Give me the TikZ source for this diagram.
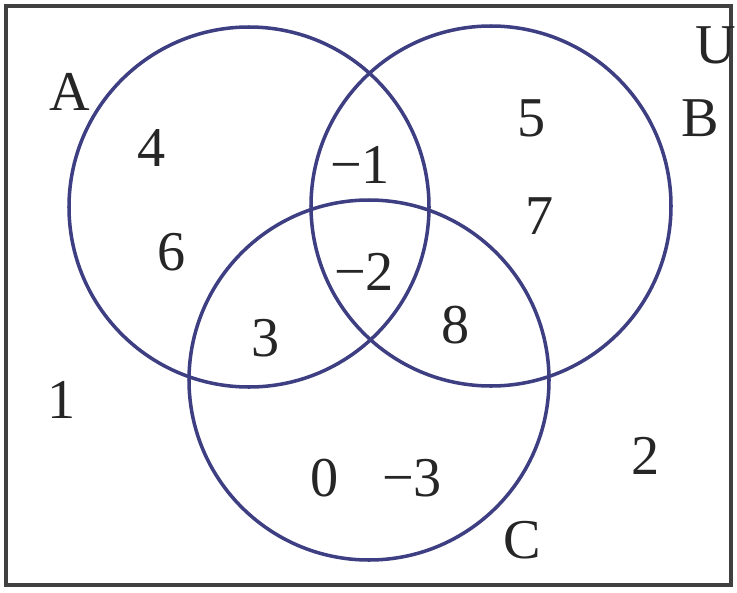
\documentclass[tikz,border=0pt]{standalone}
\usepackage{fontspec}
\setmainfont{Liberation Serif}
\begin{document}
\begin{tikzpicture}[x=0.02cm,y=-0.02cm,
  circ/.style={draw=circblue,line width=2pt},
  lbl/.style={font=\fontsize{32}{36}\selectfont,text=black!85,inner sep=0pt}]
\definecolor{circblue}{RGB}{62,62,130}
\useasboundingbox (0,0) rectangle (737,592);
\fill[white] (0,0) rectangle (737,592);
\draw[black!75,line width=2.2pt] (6,6) rectangle (731,585);
\node[circ,circle,minimum size=360*0.02cm] (A) at (249,207) {};
\node[circ,circle,minimum size=360*0.02cm] (B) at (491,206) {};
\node[circ,circle,minimum size=360*0.02cm] (C) at (369,380) {};
\node[lbl] (la) at (70,92) {A};
\node[lbl] (lu) at (716,45) {U};
\node[lbl] (lb) at (700,118) {B};
\node[lbl] (lc) at (522,540) {C};
\node[lbl] (n4) at (152,148) {4};
\node[lbl] (n6) at (172,252) {6};
\node[lbl] (nm1) at (360,165) {−1};
\node[lbl] (nm2) at (364,272) {−2};
\node[lbl] (n5) at (532,118) {5};
\node[lbl] (n7) at (540,216) {7};
\node[lbl] (n3) at (266,338) {3};
\node[lbl] (n8) at (456,325) {8};
\node[lbl] (n1) at (62,400) {1};
\node[lbl] (n0) at (325,478) {0};
\node[lbl] (nm3) at (412,478) {−3};
\node[lbl] (n2) at (646,456) {2};
\end{tikzpicture}
\end{document}
